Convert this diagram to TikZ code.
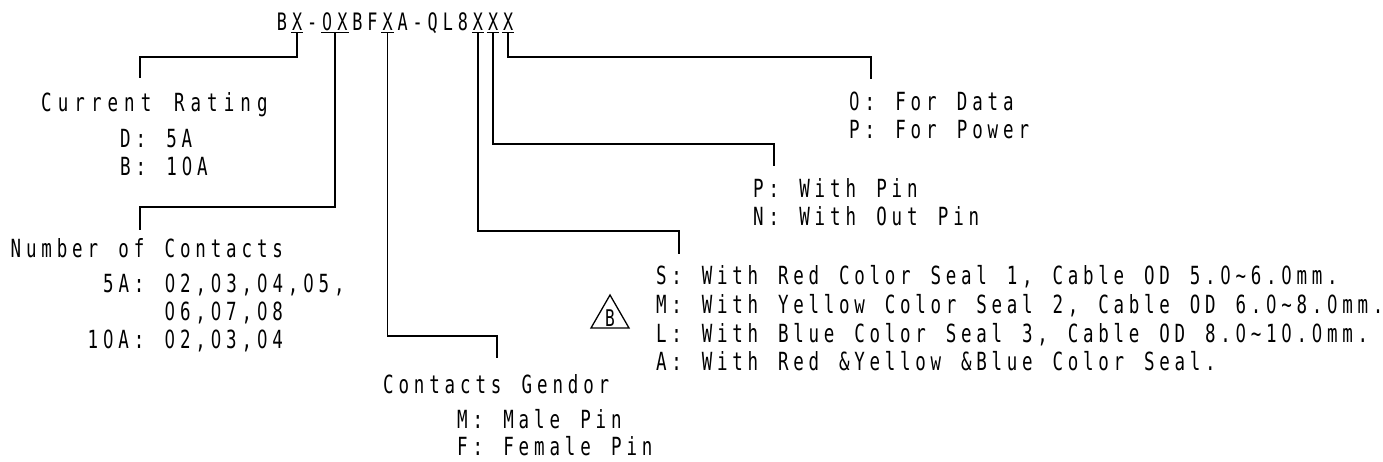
\documentclass[tikz,border=0pt]{standalone}
\usepackage{fontspec}
\newfontfamily\cad[FakeStretch=0.7]{DejaVu Sans Mono}
\newfontfamily\cadz[FakeStretch=0.66]{DejaVu Sans}
\newcommand\cadtxt{\cad\fontsize{25pt}{27pt}\selectfont}
\newcommand\cadhdr{\cad\fontsize{24pt}{26pt}\selectfont}
\newcommand\cadrev{\cad\fontsize{23pt}{25pt}\selectfont}
\newcommand\zerochar{{\cadz 0}}
\ExplSyntaxOn
\NewDocumentCommand \mono { O{15.4pt} m }
  {
    \str_map_inline:nn {#2}
      {
        \str_if_eq:nnTF {##1} {0}
          { \makebox[#1][c]{\zerochar} }
          { \makebox[#1][c]{##1} }
      }
  }
\ExplSyntaxOff
\usetikzlibrary{calc}
\begin{document}
\begin{tikzpicture}[x=1pt,y=-1pt,
  txt/.style={anchor=base west,inner sep=0pt,font=\cadtxt},
  hch/.style={anchor=base,inner ysep=0pt,inner xsep=1pt,font=\cadhdr},
  conn/.style={line width=1.8pt},
  ul/.style={line width=1.6pt},
  tri/.style={line width=1.3pt,line join=miter}]
\useasboundingbox (0,0) rectangle (1383,461);
% header code
\foreach \c [count=\i from 0] in {B,X,-,\zerochar,X,B,F,X,A,-,Q,L,8,X,X,X}
  \node[hch] (h\i) at (282+15.08*\i,30) {\c};
\foreach \a/\b in {1/1,3/4,7/7,13/13,14/14,15/15}
  \draw[ul] ([yshift=-2.5pt]h\a.base west) -- ([yshift=-2.5pt]h\b.base east);
\coordinate (u04) at ($(h3.base)!0.5!(h4.base)$);
% bend and end points
\coordinate (k1) at (140,57);  \coordinate (e1) at (140,78);
\coordinate (k2) at (140,207); \coordinate (e2) at (140,230);
\coordinate (k3) at (497,336); \coordinate (e3) at (497,358);
\coordinate (k4) at (679,231); \coordinate (e4) at (679,254);
\coordinate (k5) at (774,144); \coordinate (e5) at (774,166);
\coordinate (k6) at (871,57);  \coordinate (e6) at (871,79);
% connectors
\draw[conn] ([yshift=-2.5pt]h1.base) |- (k1) -- (e1);
\draw[conn] ([yshift=-2.5pt]u04) |- (k2) -- (e2);
\draw[conn] ([yshift=-2.5pt]h7.base) |- (k3) -- (e3);
\draw[conn] ([yshift=-2.5pt]h13.base) |- (k4) -- (e4);
\draw[conn] ([yshift=-2.5pt]h14.base) |- (k5) -- (e5);
\draw[conn] ([yshift=-2.5pt]h15.base) |- (k6) -- (e6);
% texts
\node[txt] (cr)  at (38,111)  {\mono[16.6pt]{Current Rating}};
\node[txt] (crd) at (117.5,147) {\mono{D: 5A}};
\node[txt] (crb) at (117.5,175) {\mono{B: 10A}};
\node[txt] (nc)  at (8,257)   {\mono{Number of Contacts}};
\node[txt] (nc1) at (100.5,292) {\mono{5A: 02,03,04,05,}};
\node[txt] (nc2) at (162,320) {\mono{06,07,08}};
\node[txt] (nc3) at (85,348)  {\mono{10A: 02,03,04}};
\node[txt] (cg)  at (380.5,393) {\mono{Contacts Gendor}};
\node[txt] (cgm) at (454.5,428) {\mono{M: Male Pin}};
\node[txt] (cgf) at (454.5,455) {\mono{F: Female Pin}};
\node[txt] (d0)  at (846.5,110) {\mono{0: For Data}};
\node[txt] (dp)  at (846.5,138) {\mono{P: For Power}};
\node[txt] (pp)  at (750.5,197) {\mono{P: With Pin}};
\node[txt] (pn)  at (750.5,225) {\mono{N: With Out Pin}};
\node[txt] (ss)  at (653.5,284) {\mono[15.25pt]{S: With Red Color Seal 1, Cable OD 5.0~6.0mm.}};
\node[txt] (sm)  at (653.5,313) {\mono[15.25pt]{M: With Yellow Color Seal 2, Cable OD 6.0~8.0mm.}};
\node[txt] (sl)  at (653.5,342) {\mono[15.25pt]{L: With Blue Color Seal 3, Cable OD 8.0~10.0mm.}};
\node[txt] (sa)  at (653.5,370) {\mono[15.25pt]{A: With Red &Yellow &Blue Color Seal.}};
% revision triangle
\draw[tri] (591,328) -- (610,295) -- (629,328) -- cycle;
\node[anchor=base,inner sep=0pt,font=\cadrev] (rev) at (610,326) {B};
\end{tikzpicture}
\end{document}
